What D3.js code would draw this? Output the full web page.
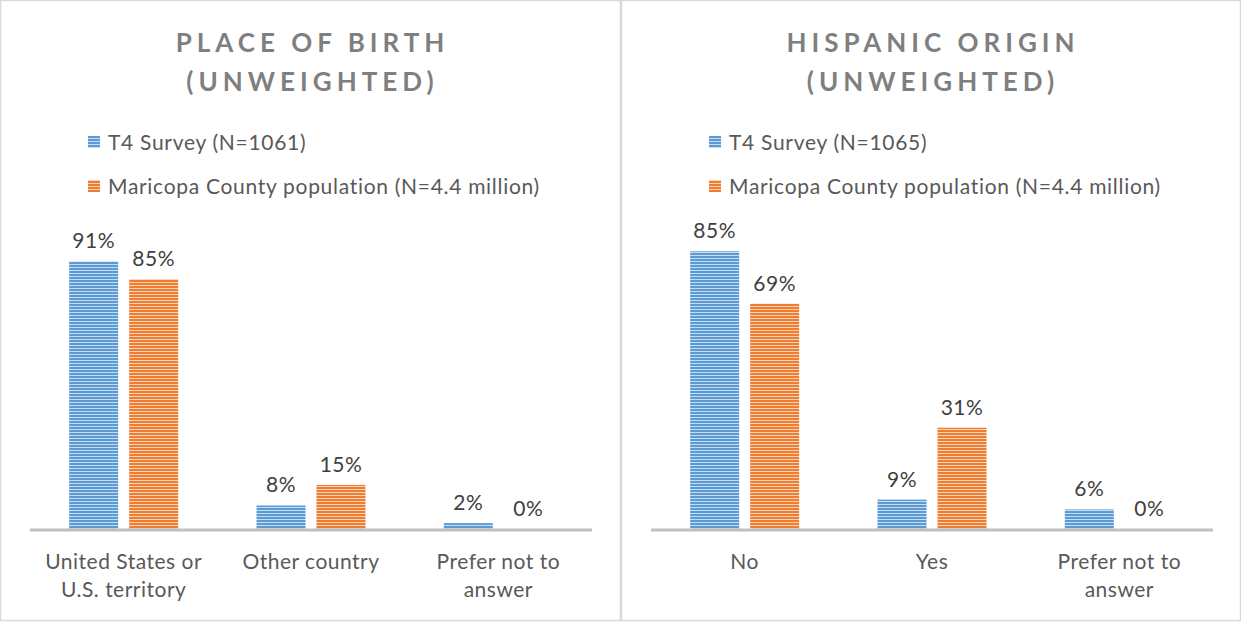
<!DOCTYPE html>
<html>
<head>
<meta charset="utf-8">
<style>
  body { margin: 0; background: #fff; }
  svg { display: block; font-family: Lato, 'Open Sans', sans-serif; }
  .title { font-weight: bold; fill: #7f7f7f; font-size: 26px; letter-spacing: 5px; }
  .legend text { font-size: 21px; fill: #595959; letter-spacing: 0.7px; }
  .lbl { font-size: 21px; fill: #404040; letter-spacing: 0.5px; }
  .cat { font-size: 21px; fill: #595959; letter-spacing: 0.5px; }
</style>
</head>
<body>
<svg width="1241" height="622"></svg>
<script src="https://d3js.org/d3.v7.min.js"></script>
<script>
// series names
const seriesKeys = ["survey", "county"];

// left chart: place of birth
const birthCategories = [["United States or", "U.S. territory"], ["Other country"], ["Prefer not to", "answer"]];
const birthSurvey = [91, 8, 2];
const birthCounty = [85, 15, 0];
const birthLegend = ["T4 Survey (N=1061)", "Maricopa County population (N=4.4 million)"];

// right chart: hispanic origin
const hispCategories = [["No"], ["Yes"], ["Prefer not to", "answer"]];
const hispSurvey = [85, 9, 6];
const hispCounty = [69, 31, 0];
const hispLegend = ["T4 Survey (N=1065)", "Maricopa County population (N=4.4 million)"];

const svg = d3.select("svg");
const defs = svg.append("defs");

function stripes(id, light, dark) {
  let p = defs.append("pattern")
    .attr("id", id)
    .attr("patternUnits", "userSpaceOnUse")
    .attr("width", 8).attr("height", 3);
  p.append("rect").attr("width", 8).attr("height", 3).attr("fill", light);
  p.append("rect").attr("y", 1).attr("width", 8).attr("height", 2).attr("fill", dark);
}
stripes("blueStripe", "#c9ddf2", "#5b9bd5");
stripes("orangeStripe", "#fad3b8", "#ed7d31");
const fills = { survey: "url(#blueStripe)", county: "url(#orangeStripe)" };

function drawPanel(ox, w, titleLines, categories, survey, county, legend, yMax) {
  let g = svg.append("g").attr("transform", `translate(${ox},0)`);

  g.append("rect")
    .attr("x", 0.5).attr("y", 0.5)
    .attr("width", w - 1).attr("height", 620)
    .attr("fill", "#fff")
    .attr("stroke", "#d9d9d9")
    .attr("stroke-width", 1.5);

  titleLines.forEach((t, i) => {
    g.append("text")
      .attr("class", "title")
      .attr("x", w / 2 + 2)
      .attr("y", 52 + i * 39)
      .attr("text-anchor", "middle")
      .text(t);
  });

  let lg = g.append("g").attr("class", "legend");
  legend.forEach((t, i) => {
    lg.append("rect")
      .attr("x", 88).attr("y", 136 + i * 44)
      .attr("width", 12).attr("height", 12)
      .attr("fill", fills[seriesKeys[i]]);
    lg.append("text")
      .attr("x", 108).attr("y", 150 + i * 44)
      .text(t);
  });

  let names = categories.map(c => c.join(" "));
  let x0 = d3.scaleBand().domain(names).range([30, 592]);
  let x1 = d3.scaleBand().domain(seriesKeys)
    .range([x0.bandwidth() / 2 - 54.5, x0.bandwidth() / 2 + 54.5])
    .paddingInner(11 / 60);
  let y = d3.scaleLinear().domain([0, yMax]).range([529, 235]);

  let rows = names.map((n, i) => ({ name: n, survey: survey[i], county: county[i] }));

  let grp = g.selectAll(".cgrp").data(rows).join("g")
    .attr("class", "cgrp")
    .attr("transform", d => `translate(${x0(d.name)},0)`);

  grp.selectAll("rect").data(d => seriesKeys.map(k => ({ key: k, value: d[k] }))).join("rect")
    .attr("x", d => x1(d.key))
    .attr("y", d => y(d.value))
    .attr("width", x1.bandwidth())
    .attr("height", d => y(0) - y(d.value))
    .attr("fill", d => fills[d.key]);

  grp.selectAll("text.lbl").data(d => seriesKeys.map(k => ({ key: k, value: d[k] }))).join("text")
    .attr("class", "lbl")
    .attr("x", d => x1(d.key) + x1.bandwidth() / 2)
    .attr("y", d => y(d.value) - 13)
    .attr("text-anchor", "middle")
    .text(d => d.value + "%");

  // axis baseline
  g.append("line")
    .attr("x1", 30).attr("x2", 592)
    .attr("y1", y(0) + 1).attr("y2", y(0) + 1)
    .attr("stroke", "#bfbfbf")
    .attr("stroke-width", 3);

  // category labels
  categories.forEach((lines, i) => {
    lines.forEach((l, j) => {
      g.append("text")
        .attr("class", "cat")
        .attr("x", x0(names[i]) + x0.bandwidth() / 2)
        .attr("y", 569 + j * 28)
        .attr("text-anchor", "middle")
        .text(l);
    });
  });
}

drawPanel(0, 621, ["PLACE OF BIRTH", "(UNWEIGHTED)"], birthCategories, birthSurvey, birthCounty, birthLegend, 100);
drawPanel(621, 620, ["HISPANIC ORIGIN", "(UNWEIGHTED)"], hispCategories, hispSurvey, hispCounty, hispLegend, 90);
</script>
</body>
</html>
